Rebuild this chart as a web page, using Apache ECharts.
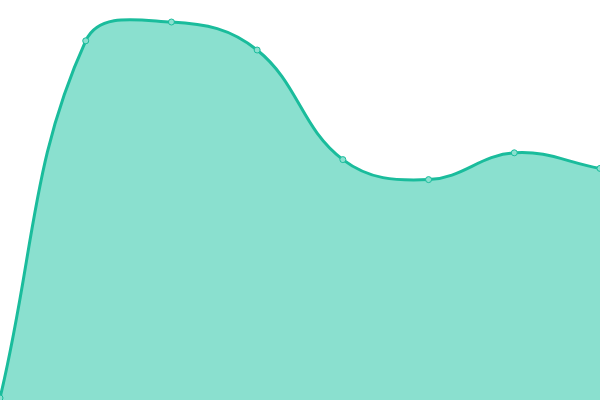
<!DOCTYPE html>
<html>
<head>
<meta charset="utf-8">
<script src="https://cdn.jsdelivr.net/npm/echarts@6/dist/echarts.min.js"></script>
<style>
  html, body { margin: 0; padding: 0; background: #fff; }
  #chart { width: 600px; height: 400px; }
</style>
</head>
<body>
<div id="chart"></div>
<script>
// data
const categories = ['1', '2', '3', '4', '5', '6', '7', '8'];
const values = [0.5, 89.8, 94.5, 87.5, 60.1, 55.1, 61.8, 57.9];

const lineColor = '#1abc9c';
const fillColor = '#8ae0cf';
const tension = 0.4;

// control points of the spline, computed on pixel coords given by the axes
function controlPoints(pts) {
  return pts.map((p, i) => {
    const prev = pts[i - 1] || p;
    const next = pts[i + 1] || p;
    const d01 = Math.hypot(p[0] - prev[0], p[1] - prev[1]);
    const d12 = Math.hypot(next[0] - p[0], next[1] - p[1]);
    const sum = d01 + d12 || 1;
    const fa = tension * d01 / sum;
    const fb = tension * d12 / sum;
    const vx = next[0] - prev[0];
    const vy = next[1] - prev[1];
    return {
      before: [p[0] - fa * vx, p[1] - fa * vy],
      after: [p[0] + fb * vx, p[1] + fb * vy],
    };
  });
}

function renderCurve(params, api) {
  if (params.dataIndex !== 0) return null;
  const pts = values.map((v, i) => api.coord([i, v]));
  const cps = controlPoints(pts);
  let d = 'M' + pts[0][0] + ',' + pts[0][1];
  for (let i = 1; i < pts.length; i++) {
    const a = cps[i - 1].after, b = cps[i].before;
    d += ' C' + a[0] + ',' + a[1] + ' ' + b[0] + ',' + b[1] + ' ' + pts[i][0] + ',' + pts[i][1];
  }
  const baseY = api.coord([0, 0])[1];
  const last = pts[pts.length - 1];
  const area = d + ' L' + last[0] + ',' + baseY + ' L' + pts[0][0] + ',' + baseY + ' Z';
  return {
    type: 'group',
    children: [
      { type: 'path', shape: { pathData: area }, style: { fill: fillColor, stroke: null } },
      { type: 'path', shape: { pathData: d }, style: { fill: null, stroke: lineColor, lineWidth: 3 } },
    ],
  };
}

const chart = echarts.init(document.getElementById('chart'));
chart.setOption({
  animation: false,
  grid: { left: 0, right: 0, top: 0, bottom: 0 },
  xAxis: { type: 'category', data: categories, boundaryGap: false, show: false },
  yAxis: { type: 'value', min: 0, max: 100, show: false },
  series: [
    {
      type: 'custom',
      data: values.map((v, i) => [i, v]),
      encode: { x: 0, y: 1 },
      renderItem: renderCurve,
      clip: false,
      z: 1,
    },
    {
      type: 'scatter',
      data: values.map((v, i) => [i, v]),
      symbol: 'circle',
      symbolSize: 6,
      itemStyle: { color: fillColor, borderColor: lineColor, borderWidth: 1, opacity: 1 },
      z: 2,
    },
  ],
});
</script>
</body>
</html>
